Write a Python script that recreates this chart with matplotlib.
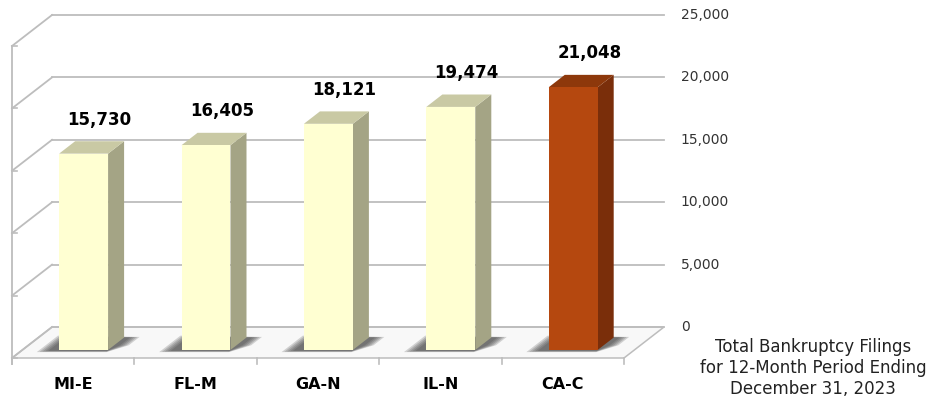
import matplotlib.pyplot as plt
from matplotlib.patches import Polygon

plt.rcParams.update({"font.family": ["DejaVu Sans"]})

# data
districts = ["MI-E", "FL-M", "GA-N", "IL-N", "CA-C"]
filings = [15730, 16405, 18121, 19474, 21048]
y_ticks = [0, 5000, 10000, 15000, 20000, 25000]
caption = "Total Bankruptcy Filings\nfor 12-Month Period Ending\nDecember 31, 2023"

# pseudo-3D geometry (category units / value units)
DX, DY = 0.327, 2484          # depth vector of the box
D0, D1 = 0.26, 0.66           # bar depth range
BW = 0.4                      # bar width
VMAX = 25000
PX_PER_V = 0.01248            # pixel per value unit (used to convert offsets)

def proj(x, v, d):
    return (x + d * DX, v + d * DY)

fig = plt.figure(figsize=(9.4, 4.04), dpi=100)
ax = fig.add_axes([0, 0, 1, 1])
ax.set_xlim(-12 / 122.4, 928 / 122.4)
ax.set_ylim(-46 / PX_PER_V, 358 / PX_PER_V)
ax.axis("off")

grid_c = "#bdbdbd"
n = len(districts)

# floor
floor = [proj(0, 0, 0), proj(n, 0, 0), proj(n, 0, 1), proj(0, 0, 1)]
ax.add_patch(Polygon(floor, closed=True, facecolor="#f8f8f8", edgecolor=grid_c, lw=1.1, zorder=1))

# back wall gridlines + left wall lines
for v in y_ticks:
    xs, ys = zip(proj(0, v, 1), proj(n, v, 1))
    ax.plot(xs, ys, color=grid_c, lw=1.3, zorder=1)
    xs, ys = zip(proj(0, v, 0), proj(0, v, 1))
    ax.plot(xs, ys, color=grid_c, lw=1.3, zorder=1)
    xs, ys = zip(proj(0, v, 0), proj(0.04, v, 0))
    ax.plot(xs, ys, color=grid_c, lw=1.2, zorder=1)
    bx, by = proj(n, v, 1)
    ax.annotate(f"{v:,}", (bx, by), xytext=(12, 0), textcoords="offset points",
                ha="left", va="center", fontsize=10, color="#333333")

# left front edge
ax.plot([0, 0], [-480, VMAX], color=grid_c, lw=1.3, zorder=1)

# x ticks along floor front
for i in range(n + 1):
    ax.plot([i, i], [0, -480], color=grid_c, lw=1.2, zorder=1)

# bars
for i, (name, v) in enumerate(zip(districts, filings)):
    if i == n - 1:
        front, side, top = "#b5480f", "#7a2e0a", "#8d380b"
    else:
        front, side, top = "#ffffd2", "#a4a485", "#c9c9a4"
    x0, x1 = i + 0.5 - BW / 2, i + 0.5 + BW / 2

    # soft shadow on floor (layered for blur)
    for k in range(5):
        g = 1 - k / 5
        shadow = [proj(x0 - 0.06 - 0.1 * g, 0, D0 - 0.02 - 0.05 * g),
                  proj(x1 + 0.01 * g, 0, D0 - 0.02 - 0.05 * g),
                  proj(x1 + 0.03 + 0.09 * g, 0, D0 + 0.15),
                  proj(x1 + 0.03 + 0.09 * g, 0, D1 + 0.02 * g),
                  proj(x0 - 0.06 - 0.1 * g, 0, D0 + 0.4 + 0.06 * g)]
        ax.add_patch(Polygon(shadow, closed=True, facecolor="#333333", edgecolor="none",
                             alpha=0.2, zorder=2))

    ax.add_patch(Polygon([proj(x1, 0, D0), proj(x1, 0, D1), proj(x1, v, D1), proj(x1, v, D0)],
                         closed=True, facecolor=side, edgecolor="none", zorder=3))
    ax.add_patch(Polygon([proj(x0, v, D0), proj(x1, v, D0), proj(x1, v, D1), proj(x0, v, D1)],
                         closed=True, facecolor=top, edgecolor="none", zorder=3))
    ax.add_patch(Polygon([proj(x0, 0, D0), proj(x1, 0, D0), proj(x1, v, D0), proj(x0, v, D0)],
                         closed=True, facecolor=front, edgecolor="none", zorder=4))

    lx, ly = proj(i + 0.5, v, D1)
    ax.annotate(f"{v:,}", (lx, ly), xytext=(0, 9), textcoords="offset points",
                ha="center", va="bottom", fontsize=12, fontweight="bold", color="black")
    ax.annotate(name, (i + 0.5, 0), xytext=(0, -19), textcoords="offset points",
                ha="center", va="center", fontsize=11.5, fontweight="bold", color="black")

fig.text(813 / 940, 1 - 368 / 404, caption, ha="center", va="center",
         fontsize=12, color="#222222", linespacing=1.25)

fig.savefig("out.png", dpi=100)
